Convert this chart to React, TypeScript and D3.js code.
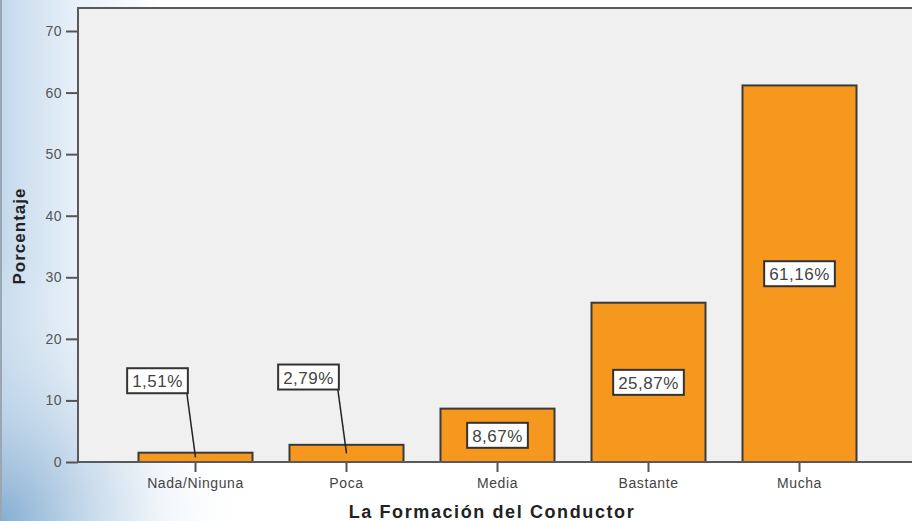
import React, { useEffect, useRef } from 'react';
import * as d3 from 'd3';

const svgWidth = 912;
const svgHeight = 521;
const plot = { left: 78, top: 8, right: 912, bottom: 462 };

const categories = ['Nada/Ninguna', 'Poca', 'Media', 'Bastante', 'Mucha'];
const values = [1.51, 2.79, 8.67, 25.87, 61.16];
const labels = ['1,51%', '2,79%', '8,67%', '25,87%', '61,16%'];
// small bars get their label lifted up and to the left, with a leader line
const labelLift = [13.2, 13.8, null, null, null];
const yTicks = [0, 10, 20, 30, 40, 50, 60, 70];

const FONT = 'Liberation Sans, Arial, sans-serif';

const App = () => {
    const ref = useRef<SVGSVGElement | null>(null);

    useEffect(() => {
        const svg = d3.select(ref.current);
        svg.selectAll('*').remove();

        const defs = svg.append('defs');
        const lg = defs.append('linearGradient').attr('id', 'bgLeft')
            .attr('x1', 0).attr('x2', 1).attr('y1', 0).attr('y2', 0);
        lg.append('stop').attr('offset', '0%').attr('stop-color', '#c4d9ec');
        lg.append('stop').attr('offset', '8%').attr('stop-color', '#e6eff8');
        lg.append('stop').attr('offset', '18%').attr('stop-color', '#ffffff');
        const rg = defs.append('radialGradient').attr('id', 'bgCorner')
            .attr('cx', 0).attr('cy', 1).attr('r', 0.5);
        rg.append('stop').attr('offset', '0%').attr('stop-color', '#7fa9cf').attr('stop-opacity', 0.9);
        rg.append('stop').attr('offset', '100%').attr('stop-color', '#ffffff').attr('stop-opacity', 0);

        svg.append('rect').attr('width', svgWidth).attr('height', svgHeight).attr('fill', 'url(#bgLeft)');
        svg.append('rect').attr('width', 500).attr('height', svgHeight).attr('fill', 'url(#bgCorner)');
        svg.append('rect').attr('x', 0).attr('y', 0).attr('width', 2).attr('height', svgHeight).attr('fill', '#9aa6b2');
        svg.append('line').attr('x1', 262).attr('y1', 470).attr('x2', 300).attr('y2', 521)
            .attr('stroke', '#ffffff').attr('stroke-width', 3).attr('opacity', 0.6);

        const xScale = d3.scaleBand<string>().domain(categories).range([120, 875])
            .paddingInner(0.245).paddingOuter(0.1225);
        const yScale = d3.scaleLinear().domain([0, 70]).range([plot.bottom, 31]);

        // plot area
        svg.append('rect')
            .attr('x', plot.left).attr('y', plot.top)
            .attr('width', plot.right - plot.left + 10).attr('height', plot.bottom - plot.top)
            .attr('fill', '#f0f0f0').attr('stroke', '#5a5a5a').attr('stroke-width', 2);

        // y axis
        const yAxis = svg.append('g').attr('transform', `translate(${plot.left},0)`)
            .call(d3.axisLeft(yScale).tickValues(yTicks).tickSize(12).tickPadding(4).tickFormat(d3.format('d')));
        yAxis.select('.domain').remove();
        yAxis.selectAll('line').attr('stroke', '#555').attr('stroke-width', 2);
        yAxis.selectAll('text').attr('fill', '#555').attr('font-size', 14)
            .attr('letter-spacing', 0.5).attr('font-family', FONT);

        // bars
        svg.append('g').selectAll('rect')
            .data(values)
            .enter()
            .append('rect')
            .attr('x', (d, i) => xScale(categories[i]) as number)
            .attr('y', d => yScale(d))
            .attr('width', xScale.bandwidth())
            .attr('height', d => yScale(0) - yScale(d))
            .attr('fill', '#f7981e')
            .attr('stroke', '#3a3a3a')
            .attr('stroke-width', 2);

        // x axis
        const xAxis = svg.append('g').attr('transform', `translate(0,${plot.bottom})`)
            .call(d3.axisBottom(xScale).tickSize(10).tickPadding(6));
        xAxis.select('.domain').remove();
        xAxis.selectAll('line').attr('stroke', '#555').attr('stroke-width', 2);
        xAxis.selectAll('text').attr('fill', '#444').attr('font-size', 14)
            .attr('letter-spacing', 0.6).attr('font-family', FONT);
        svg.append('line').attr('x1', plot.left - 1).attr('x2', svgWidth)
            .attr('y1', plot.bottom).attr('y2', plot.bottom)
            .attr('stroke', '#5a5a5a').attr('stroke-width', 2);

        // value labels
        const lab = svg.append('g').selectAll('g')
            .data(values)
            .enter()
            .append('g');
        lab.each(function (d, i) {
            const g = d3.select(this);
            const cx = (xScale(categories[i]) as number) + xScale.bandwidth() / 2;
            const lift = labelLift[i];
            const lx = lift === null ? cx : cx - 38;
            const ly = lift === null ? yScale(d / 2) : yScale(lift);
            const t = g.append('text')
                .attr('x', lx).attr('y', ly + 1)
                .attr('text-anchor', 'middle').attr('dominant-baseline', 'central')
                .attr('font-size', 17).attr('fill', '#444').attr('letter-spacing', 0.5)
                .attr('font-family', FONT)
                .text(labels[i]);
            const bb = (t.node() as SVGTextElement).getBBox();
            const w = bb.width + 10;
            const h = 25;
            if (lift !== null) {
                g.insert('line', 'text')
                    .attr('x1', lx + w / 2 - 1).attr('y1', ly + h / 2)
                    .attr('x2', cx).attr('y2', yScale(d / 2))
                    .attr('stroke', '#222').attr('stroke-width', 1.5);
            }
            g.insert('rect', 'text')
                .attr('x', lx - w / 2).attr('y', ly - h / 2)
                .attr('width', w).attr('height', h)
                .attr('fill', '#ffffff').attr('stroke', '#333').attr('stroke-width', 2);
        });

        // axis titles
        svg.append('text')
            .attr('transform', 'translate(25,236) rotate(-90)')
            .attr('text-anchor', 'middle')
            .attr('font-size', 17).attr('font-weight', 'bold').attr('fill', '#222')
            .attr('letter-spacing', 1)
            .attr('font-family', FONT)
            .text('Porcentaje');
        svg.append('text')
            .attr('x', 492).attr('y', 518)
            .attr('text-anchor', 'middle')
            .attr('font-size', 18).attr('font-weight', 'bold').attr('fill', '#222')
            .attr('letter-spacing', 1.6)
            .attr('font-family', FONT)
            .text('La Formación del Conductor');
    }, []);

    return (
        <svg ref={ref} width={svgWidth} height={svgHeight}
            style={{ position: 'absolute', left: 0, top: 0 }} />
    );
};

export default App;
